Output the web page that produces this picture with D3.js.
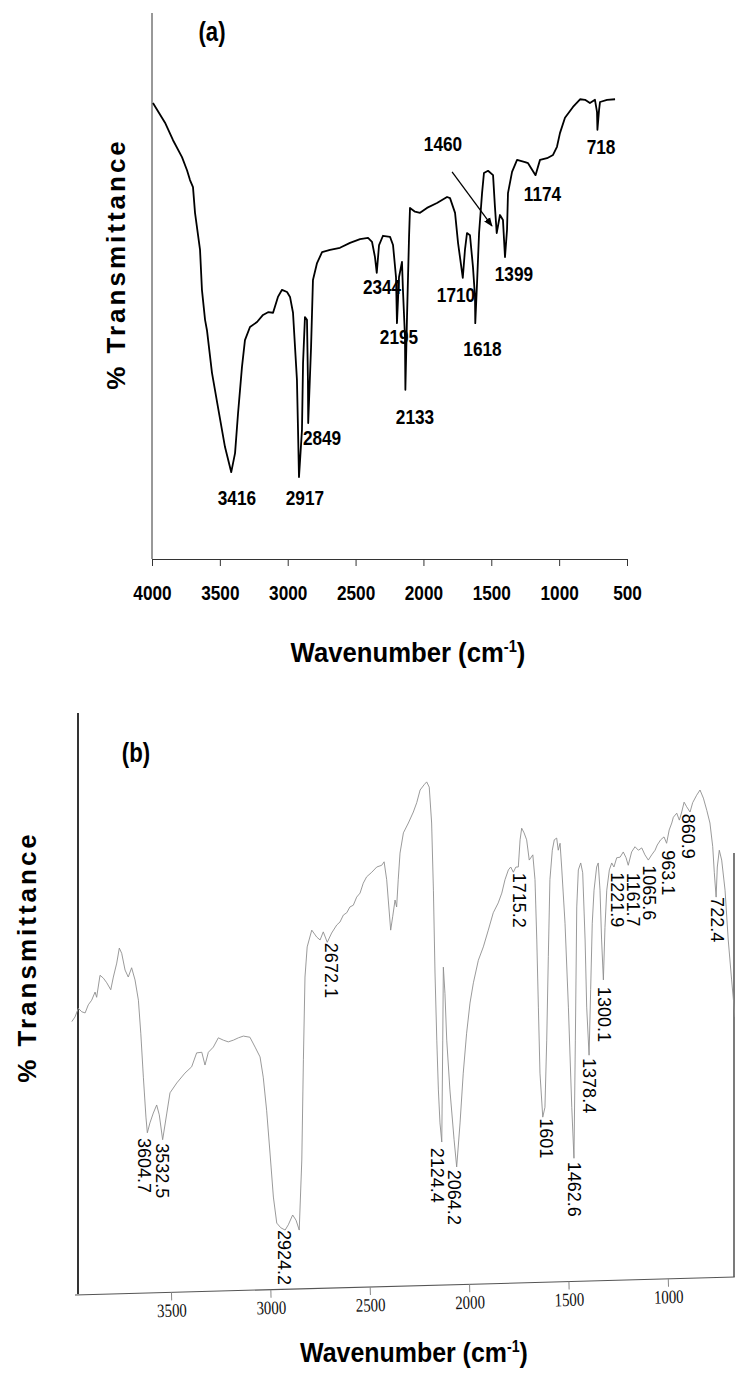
<!DOCTYPE html>
<html>
<head>
<meta charset="utf-8">
<script src="https://cdn.jsdelivr.net/npm/d3@7"></script>
<style>
  body { margin: 0; background: #fff; }
  svg { display: block; }
</style>
</head>
<body>
<svg id="chart"></svg>
<script>
// Spectrum (a): wavenumber (cm-1) and % transmittance
const wavenumberA = [3993, 3904, 3845, 3779, 3742, 3720, 3698, 3683, 3646, 3632, 3609, 3595, 3558, 3514, 3462, 3416,
    3388, 3366, 3337, 3315, 3278, 3226, 3182, 3145, 3108, 3072, 3042, 3005, 2983, 2961, 2932, 2924, 2917, 2895,
    2887, 2873, 2858, 2851, 2849, 2828, 2814, 2784, 2747, 2688, 2615, 2541, 2467, 2408, 2379, 2357, 2344, 2327,
    2298, 2246, 2224, 2202, 2195, 2180, 2158, 2151, 2136, 2133, 2121, 2106, 2099, 2062, 2025, 1974, 1900, 1826,
    1804, 1767, 1745, 1710, 1694, 1679, 1657, 1635, 1620, 1618, 1605, 1590, 1568, 1554, 1524, 1487, 1473, 1460,
    1436, 1414, 1399, 1384, 1377, 1347, 1310, 1251, 1229, 1174, 1141, 1089, 1045, 1016, 994, 957, 898, 846, 809,
    773, 736, 721, 718, 706, 699, 647, 588];
const transmittanceA = [83.5, 79.9, 76.7, 73.6, 71.2, 69.4, 68.1, 63.4, 56.6, 49.3, 43.8, 41.9, 34.1, 27.8, 20.5, 15.9,
    19.4, 26.7, 35.2, 40.1, 42.5, 43.4, 44.7, 45.2, 45.1, 48.0, 49.3, 48.9, 48.0, 45.1, 32.8, 23.6, 15.0, 23.6,
    35.9, 44.3, 43.8, 32.8, 24.9, 38.8, 51.1, 54.2, 56.2, 56.6, 57.0, 57.9, 58.6, 58.8, 58.1, 55.3, 52.4, 57.5,
    59.2, 59.0, 57.5, 51.6, 43.2, 51.6, 54.4, 49.3, 40.7, 31.0, 44.3, 59.0, 64.3, 63.6, 63.4, 64.3, 65.2, 66.3,
    66.1, 63.4, 57.9, 51.5, 56.6, 59.7, 59.3, 53.5, 48.0, 43.2, 50.5, 59.7, 67.0, 70.7, 71.1, 70.3, 64.5, 59.7,
    63.0, 62.1, 55.3, 60.3, 67.0, 70.9, 73.1, 72.7, 72.5, 70.3, 73.1, 73.4, 74.0, 75.5, 78.0, 80.8, 82.8, 84.2, 84.1,
    83.5, 84.1, 81.9, 78.6, 82.2, 83.7, 84.1, 84.2];
const peakLabelsA = ["3416", "2917", "2849", "2344", "2195", "2133", "1710", "1618", "1399", "1174", "718", "1460"];
const ticksA = [4000, 3500, 3000, 2500, 2000, 1500, 1000, 500];

// Spectrum (b)
const wavenumberB = [3999, 3983, 3966, 3949, 3932, 3916, 3899, 3882, 3874, 3857, 3840, 3823, 3803, 3790, 3773, 3760,
    3748, 3731, 3715, 3698, 3681, 3664, 3652, 3639, 3626, 3619, 3606, 3589, 3572, 3559, 3542, 3521, 3505, 3471,
    3430, 3396, 3371, 3345, 3329, 3312, 3287, 3262, 3237, 3212, 3186, 3161, 3136, 3103, 3077, 3052, 3036, 3019,
    3002, 2985, 2968, 2948, 2926, 2910, 2888, 2871, 2855, 2842, 2834, 2826, 2815, 2792, 2767, 2750, 2734, 2714,
    2692, 2666, 2650, 2633, 2616, 2600, 2583, 2566, 2549, 2533, 2516, 2490, 2465, 2440, 2428, 2415, 2407, 2395,
    2385, 2373, 2365, 2357, 2348, 2331, 2306, 2281, 2264, 2247, 2227, 2214, 2201, 2189, 2180, 2172, 2163, 2155,
    2147, 2138, 2133, 2130, 2122, 2113, 2097, 2076, 2063, 2046, 2030, 2013, 1996, 1979, 1954, 1929, 1904, 1879,
    1854, 1836, 1820, 1803, 1791, 1778, 1765, 1753, 1744, 1736, 1724, 1711, 1698, 1680, 1669, 1660, 1652, 1644,
    1630, 1619, 1610, 1602, 1594, 1582, 1572, 1560, 1552, 1543, 1535, 1518, 1501, 1484, 1473, 1466, 1459, 1451,
    1439, 1429, 1417, 1409, 1397, 1389, 1381, 1372, 1359, 1351, 1342, 1334, 1325, 1317, 1308, 1295, 1283, 1272,
    1258, 1241, 1225, 1211, 1200, 1183, 1166, 1149, 1132, 1116, 1099, 1082, 1065, 1054, 1037, 1020, 1007, 994,
    981, 973, 956, 943, 931, 919, 906, 889, 876, 856, 839, 822, 805, 789, 775, 767, 758, 752, 742, 730, 713, 697,
    680, 663];
const transmittanceB = [46.7, 47.5, 49.0, 48.4, 48.2, 49.6, 50.4, 51.8, 50.9, 54.7, 54.2, 53.4, 52.2, 54.4, 56.8, 59.4,
    58.5, 55.6, 54.4, 56.0, 53.9, 50.4, 44.7, 37.1, 30.2, 27.5, 29.2, 30.9, 32.3, 30.6, 26.3, 30.9, 34.4, 36.1,
    37.8, 38.9, 41.3, 41.4, 39.2, 41.4, 42.3, 43.9, 43.5, 43.2, 43.5, 43.9, 44.2, 44.0, 42.3, 40.6, 37.1, 31.4,
    24.0, 16.4, 11.9, 11.1, 10.7, 11.6, 13.3, 12.4, 10.7, 22.8, 40.1, 54.4, 59.6, 62.5, 61.3, 60.8, 62.2, 60.4,
    62.0, 63.4, 63.9, 65.1, 65.5, 66.5, 66.8, 68.2, 68.9, 70.6, 71.7, 72.5, 73.4, 73.7, 74.3, 71.2, 67.7, 62.5,
    64.8, 67.7, 66.5, 71.2, 75.8, 79.3, 81.0, 82.9, 84.5, 86.7, 87.6, 88.1, 87.2, 81.0, 69.4, 55.1, 43.5, 34.9,
    29.2, 25.9, 43.5, 56.1, 51.6, 43.5, 34.9, 26.3, 21.6, 29.2, 37.8, 44.7, 49.9, 53.4, 57.3, 59.6, 62.5, 65.5,
    67.2, 68.9, 71.2, 72.9, 73.4, 72.5, 73.4, 73.4, 78.1, 80.1, 79.3, 78.1, 74.6, 75.5, 71.2, 60.8, 49.2, 37.8,
    30.2, 31.9, 43.5, 57.9, 71.2, 76.3, 78.1, 78.4, 76.3, 77.5, 73.4, 63.7, 49.2, 31.9, 23.1, 43.5, 66.5, 72.9,
    74.1, 72.4, 60.8, 49.2, 40.9, 52.2, 63.7, 69.4, 73.4, 74.1, 69.4, 60.8, 53.9, 63.0, 69.4, 72.9, 74.1, 73.4,
    75.0, 75.1, 76.0, 75.0, 73.7, 76.0, 76.9, 76.3, 76.7, 75.5, 74.6, 75.5, 76.3, 77.2, 78.1, 78.6, 77.5, 79.8,
    81.0, 82.0, 82.7, 81.5, 82.9, 84.6, 83.8, 82.9, 84.5, 85.8, 86.7, 85.3, 83.2, 81.0, 76.9, 72.4, 68.2, 73.4,
    76.3, 74.6, 69.4, 60.8, 53.9, 47.5];
const peakLabelsB = ["3604.7", "3532.5", "2924.2", "2672.1", "2124.4", "2064.2", "1715.2", "1601", "1462.6",
    "1378.4", "1300.1", "1221.9", "1161.7", "1065.6", "963.1", "860.9", "722.4"];
const ticksB = [3500, 3000, 2500, 2000, 1500, 1000];

// where each peak label sits, in (wavenumber, %T) of its panel
const labelAnchorA = [[3374, 11.2], [2873, 11.2], [2747, 22.3], [2305, 49.8], [2180, 40.8], [2062, 26.0],
    [1760, 48.5], [1565, 38.5], [1333, 52.2], [1123, 67.0], [691, 75.5], [1856, 76.0]];
const arrowA = [[1789, 70.9], [1495, 61.0]];
const labelAnchorB = [[3664, 26.6], [3575, 25.7], [2962, 10.7], [2725, 60.3], [2192, 24.9], [2107, 21.1],
    [1780, 72.4], [1644, 30.0], [1503, 22.5], [1427, 40.4], [1352, 52.7], [1287, 72.5], [1206, 72.4],
    [1126, 73.7], [1030, 76.3], [930, 82.6], [784, 68.2]];

const width = 735;
const height = 1382;
const sans = '"Liberation Sans", Arial, sans-serif';

const svg = d3.select("#chart")
    .attr("width", width)
    .attr("height", height)
    .style("background", "#fff");

// squeeze bold Arial into the narrow face used in the figure
function condense(sel, factor) {
    sel.each(function() {
        const len = this.getComputedTextLength();
        d3.select(this)
            .attr("textLength", len * factor)
            .attr("lengthAdjust", "spacingAndGlyphs");
    });
}

function narrowText(g, size) {
    return g.append("text")
        .style("font-family", sans)
        .style("font-weight", "bold")
        .style("font-size", size + "px");
}

function drawPanelA() {
    const x = d3.scaleLinear().domain([4000, 500]).range([152, 627]);
    const y = d3.scaleLinear().domain([0, 100]).range([559, 13]);
    const g = svg.append("g");

    // y axis: plain line, no ticks
    g.append("line")
        .attr("x1", 152).attr("x2", 152)
        .attr("y1", y(100)).attr("y2", y(0))
        .attr("stroke", "#333").attr("stroke-width", 1);

    const xAxis = g.append("g")
        .attr("transform", `translate(0, ${y(0)})`)
        .call(d3.axisBottom(x).tickValues(ticksA).tickFormat(d3.format("d"))
            .tickSize(7).tickSizeOuter(0).tickPadding(19));
    xAxis.select(".domain").attr("stroke", "#333");
    xAxis.selectAll(".tick line").attr("stroke", "#333");
    xAxis.selectAll(".tick text")
        .style("font-family", sans)
        .style("font-weight", "bold")
        .style("font-size", "21px")
        .attr("fill", "#000")
        .call(condense, 0.82);

    const data = wavenumberA.map((w, i) => ({ w: w, t: transmittanceA[i] }));
    g.append("path")
        .datum(data)
        .attr("d", d3.line().x(d => x(d.w)).y(d => y(d.t)))
        .attr("fill", "none")
        .attr("stroke", "#000")
        .attr("stroke-width", 1.8)
        .attr("stroke-linejoin", "round");

    g.selectAll(".peak-a")
        .data(peakLabelsA)
        .enter()
        .append("text")
        .attr("class", "peak-a")
        .attr("x", (d, i) => x(labelAnchorA[i][0]))
        .attr("y", (d, i) => y(labelAnchorA[i][1]))
        .attr("dy", "0.35em")
        .attr("text-anchor", "middle")
        .style("font-family", sans)
        .style("font-weight", "bold")
        .style("font-size", "21px")
        .text(d => d)
        .call(condense, 0.82);

    // arrow pointing at the 1460 shoulder
    svg.append("defs").append("marker")
        .attr("id", "arrowhead")
        .attr("viewBox", "0 0 10 10")
        .attr("refX", 9).attr("refY", 5)
        .attr("markerWidth", 7).attr("markerHeight", 7)
        .attr("orient", "auto")
        .append("path")
        .attr("d", "M0,1 L10,5 L0,9 Z")
        .attr("fill", "#000");
    g.append("line")
        .attr("x1", x(arrowA[0][0])).attr("y1", y(arrowA[0][1]))
        .attr("x2", x(arrowA[1][0])).attr("y2", y(arrowA[1][1]))
        .attr("stroke", "#000").attr("stroke-width", 1.3)
        .attr("marker-end", "url(#arrowhead)");

    narrowText(g, 27)
        .attr("x", 212).attr("y", 41)
        .attr("text-anchor", "middle")
        .text("(a)")
        .call(condense, 0.82);

    yTitle(g, 125, 264);
    xTitle(g, 408, 662, 235);
}

function drawPanelB() {
    const x = d3.scaleLinear().domain([3500, 1000]).range([171, 668]);
    const y = d3.scaleLinear().domain([0, 100]).range([1292, 713]);
    const g = svg.append("g");

    g.append("line")
        .attr("x1", 78).attr("x2", 78)
        .attr("y1", y(100)).attr("y2", 1294)
        .attr("stroke", "#000").attr("stroke-width", 1.6);

    // scanned frame edge on the right
    g.append("line")
        .attr("x1", 734).attr("x2", 734)
        .attr("y1", 853).attr("y2", 1277)
        .attr("stroke", "#222").attr("stroke-width", 1.2);

    // the scanned x axis is slightly tilted
    const axisG = g.append("g")
        .attr("transform", "rotate(-1.56, 75, 1295) translate(0, 1295)");
    axisG.append("line")
        .attr("x1", 75).attr("x2", 735)
        .attr("stroke", "#555").attr("stroke-width", 1);
    const xAxis = axisG.append("g")
        .call(d3.axisBottom(x).tickValues(ticksB).tickFormat(d3.format("d"))
            .tickSize(8).tickSizeOuter(0).tickPadding(3));
    xAxis.select(".domain").remove();
    xAxis.selectAll(".tick line").attr("stroke", "#888");
    xAxis.selectAll(".tick text")
        .style("font-family", '"Liberation Serif", "Times New Roman", serif')
        .style("font-size", "19px")
        .attr("fill", "#111")
        .call(condense, 0.78);

    const data = wavenumberB.map((w, i) => ({ w: w, t: transmittanceB[i] }));
    g.append("path")
        .datum(data)
        .attr("d", d3.line().x(d => x(d.w)).y(d => y(d.t)))
        .attr("fill", "none")
        .attr("stroke", "#8f8f8f")
        .attr("stroke-width", 0.9)
        .attr("stroke-linejoin", "round");

    g.selectAll(".peak-b")
        .data(peakLabelsB)
        .enter()
        .append("text")
        .attr("class", "peak-b")
        .attr("transform", (d, i) => `translate(${x(labelAnchorB[i][0])}, ${y(labelAnchorB[i][1])}) rotate(90)`)
        .style("font-family", sans)
        .style("font-size", "18px")
        .attr("fill", "#000")
        .text(d => d);

    narrowText(g, 27)
        .attr("x", 136).attr("y", 762)
        .attr("text-anchor", "middle")
        .text("(b)")
        .call(condense, 0.82);

    yTitle(g, 36, 957);
    xTitle(g, 414, 1362, 228);
}

function yTitle(g, px, py) {
    g.append("text")
        .attr("transform", `translate(${px}, ${py}) rotate(-90)`)
        .attr("text-anchor", "middle")
        .style("font-family", sans)
        .style("font-weight", "bold")
        .style("font-size", "26px")
        .style("letter-spacing", "3px")
        .text("% Transmittance");
}

// x title: narrow look made by scaling the whole text horizontally
function xTitle(g, px, py, len) {
    const holder = g.append("g");
    const t = narrowText(holder, 28)
        .attr("text-anchor", "middle");
    t.append("tspan").text("Wavenumber (cm");
    t.append("tspan").attr("dy", -10).style("font-size", "16px").text("-1");
    t.append("tspan").attr("dy", 10).text(")");
    const natural = t.node().getComputedTextLength();
    holder.attr("transform", `translate(${px}, ${py}) scale(${len / natural}, 1)`);
}

drawPanelA();
drawPanelB();
</script>
</body>
</html>
